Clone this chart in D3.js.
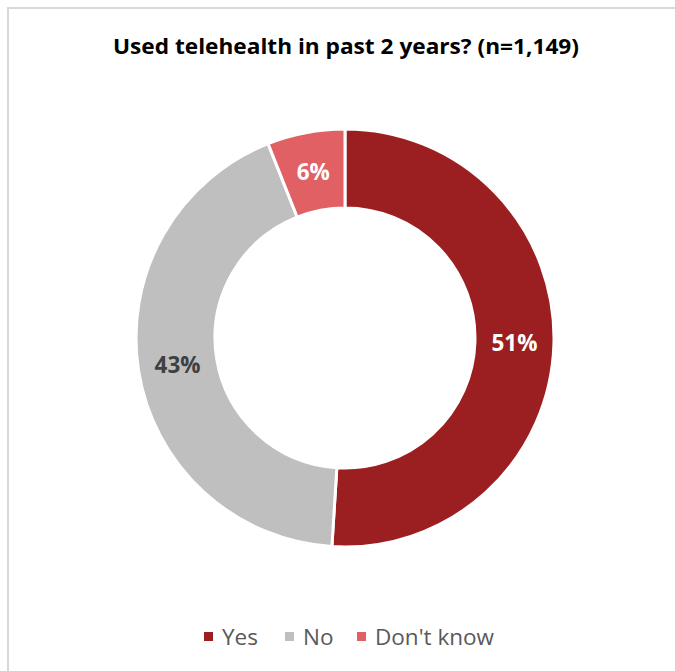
<!DOCTYPE html>
<html>
<head>
<meta charset="utf-8">
<script src="https://cdn.jsdelivr.net/npm/d3@7"></script>
<style>
html,body{margin:0;padding:0;background:#fff;}
svg{display:block;}
</style>
</head>
<body>
<script>
const categories = ["Yes", "No", "Don't know"];
const values = [51, 43, 6];
const labels = ["51%", "43%", "6%"];
const colors = ["#9B1E20", "#BFBFBF", "#E06064"];
const labelColors = ["#FFFFFF", "#404040", "#FFFFFF"];
const title = "Used telehealth in past 2 years? (n=1,149)";

const W = 675, H = 671;
const svg = d3.select("body").append("svg").attr("width", W).attr("height", H);
svg.append("rect").attr("x", 8).attr("y", 8).attr("width", W + 10).attr("height", H + 10)
  .attr("fill", "#fff").attr("stroke", "#D9D9D9").attr("stroke-width", 2);

const font = "'Open Sans', 'Noto Sans', sans-serif";
svg.append("text").attr("x", 346).attr("y", 54).attr("text-anchor", "middle")
  .attr("font-family", font).attr("font-weight", 700).attr("font-size", 21)
  .attr("textLength", 466).attr("lengthAdjust", "spacingAndGlyphs")
  .attr("fill", "#000").text(title);

const cx = 345, cy = 338, R = 209, r = 130;
const data = categories.map((c, i) => ({cat: c, value: values[i], label: labels[i], color: colors[i], lc: labelColors[i]}));
const pie = d3.pie().value(d => d.value).sort(null);
const arc = d3.arc().innerRadius(r).outerRadius(R);
const labelArc = d3.arc().innerRadius((R + r) / 2).outerRadius((R + r) / 2);
const g = svg.append("g").attr("transform", `translate(${cx},${cy})`);
const arcs = pie(data);
g.selectAll("path").data(arcs).join("path")
  .attr("d", arc).attr("fill", d => d.data.color)
  .attr("stroke", "#fff").attr("stroke-width", 3).attr("stroke-linejoin", "miter");
g.selectAll("text").data(arcs).join("text")
  .attr("transform", d => `translate(${labelArc.centroid(d)})`)
  .attr("text-anchor", "middle").attr("dy", "0.36em")
  .attr("font-family", font).attr("font-weight", 700).attr("font-size", 22.5)
  .attr("fill", d => d.data.lc).text(d => d.data.label);

// legend
const legX = [204, 285, 357];
const lg = svg.append("g");
data.forEach((d, i) => {
  lg.append("rect").attr("x", legX[i]).attr("y", 632).attr("width", 9).attr("height", 9).attr("fill", d.color);
  lg.append("text").attr("x", legX[i] + 18).attr("y", 645)
    .attr("font-family", font).attr("font-size", 22.5).attr("fill", "#595959").text(d.cat);
});
</script>
</body>
</html>
